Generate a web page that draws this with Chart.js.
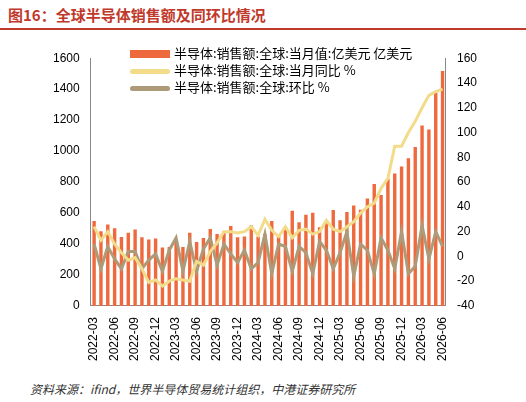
<!DOCTYPE html>
<html><head><meta charset="utf-8">
<script src="https://cdn.jsdelivr.net/npm/chart.js@4/dist/chart.umd.min.js"></script>
<style>
body{margin:0;background:#fff;font-family:"Noto Sans CJK SC",sans-serif;}
#title{position:absolute;left:8px;top:4px;font-size:15px;font-weight:bold;color:#c0392b;}
#line{position:absolute;left:0;top:28px;width:526px;border-top:2px solid #c0392b;}
#src{position:absolute;left:30px;top:380px;font-size:12px;font-style:italic;color:#333;}
#wrap{position:absolute;left:50px;top:48px;width:430px;height:316px;}
#legend{position:absolute;left:130px;top:44px;font-size:13px;line-height:17px;background:rgba(255,255,255,0.7);}
#legend span{display:inline-block;width:40px;height:5px;margin-right:4px;vertical-align:middle;}
</style></head><body>
<div id="title">图16：全球半导体销售额及同环比情况</div>
<div id="line"></div>
<div id="wrap"><canvas id="c"></canvas></div>
<div id="legend">
<div><span style="background:#ee6a3e;height:8px"></span>半导体:销售额:全球:当月值:亿美元 亿美元</div>
<div><span style="background:#f2dc8a;border-radius:3px"></span>半导体:销售额:全球:当月同比 %</div>
<div><span style="background:#ad9a78;border-radius:3px"></span>半导体:销售额:全球:环比 %</div>
</div>
<div id="src">资料来源：ifind，世界半导体贸易统计组织，中港证券研究所</div>
<script>
const months = [];
for (let y = 2022; y <= 2026; y++) for (let m = 1; m <= 12; m++) {
    if ((y === 2022 && m < 3) || (y === 2026 && m > 6)) continue;
    months.push(y + "-" + String(m).padStart(2, "0"));
}
const sales = [549,482,526,502,446,473,493,444,430,435,377,381,413,381,473,413,439,497,464,482,517,444,448,522,448,464,549,457,493,615,540,589,602,508,544,620,553,607,649,622,694,787,716,821,856,900,954,1026,1166,1139,1378,1518];
const yoy = [24,13,20,10,3,-3,-1,-10,-21,-19,-24,-20,-18,-19,-20,-4,-7,4,11,20,20,19,20,24,17,30,21,16,24,15,21,22,18,20,29,22,20,24,28,35,40,43,55,63,89,89,100,109,120,130,133,135];
const mom = [10,-10,8,-2,-10,4,4,-10,-3,2,-12,5,15,-12,12,-12,6,15,-7,10,2,-5,5,-10,-5,18,-14,10,8,-12,8,3,-14,12,5,-10,3,20,-16,10,5,-14,15,5,-10,20,-14,-8,25,-2,20,8];

new Chart(document.getElementById("c"), {
    data: {
        labels: months,
        datasets: [
            { type: "bar", label: "当月值", data: sales, backgroundColor: "#ee6a3e", yAxisID: "y", barPercentage: 0.5, categoryPercentage: 1, order: 3 },
            { type: "line", label: "当月同比", data: yoy, borderColor: "#f2dc8a", borderWidth: 3, pointRadius: 0, yAxisID: "y1", order: 1 },
            { type: "line", label: "环比", data: mom, borderColor: "#ad9a78", borderWidth: 3, pointRadius: 0, yAxisID: "y1", order: 2 }
        ]
    },
    options: {
        responsive: true, maintainAspectRatio: false, animation: false,
        plugins: { legend: { display: false }, tooltip: { enabled: false } },
        scales: {
            x: { grid: { display: false }, border: { color: "#888" },
                 ticks: { autoSkip: false, maxRotation: 90, minRotation: 90, color: "#000", font: { size: 12 },
                          callback: function(v, i) { return i % 3 === 0 ? months[i] : ""; } } },
            y: { min: 0, max: 1600, ticks: { stepSize: 200, color: "#000", font: { size: 12 }, callback: v => v }, grid: { display: false }, border: { color: "#888" } },
            y1: { position: "right", min: -40, max: 160, ticks: { stepSize: 20, color: "#000", font: { size: 12 } }, grid: { display: false }, border: { color: "#888" } }
        }
    }
});
</script>
</body></html>
